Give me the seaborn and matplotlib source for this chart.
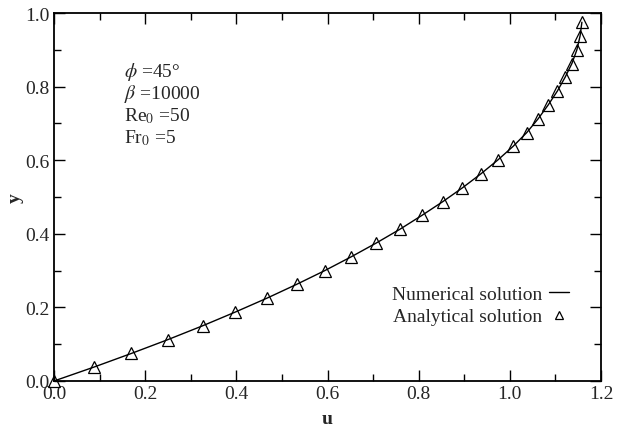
import matplotlib
matplotlib.use("Agg")
import matplotlib.pyplot as plt
import seaborn as sns
import numpy as np
from matplotlib.ticker import MultipleLocator

y_vals = [0.0, 0.0375, 0.075, 0.1125, 0.15, 0.1875, 0.225, 0.2625, 0.3, 0.3375,
          0.375, 0.4125, 0.45, 0.4875, 0.525, 0.5625, 0.6, 0.6375, 0.675, 0.7125,
          0.75, 0.7875, 0.825, 0.8625, 0.9, 0.9375, 0.975]
u_vals = [0.0, 0.087, 0.170, 0.250, 0.326, 0.398, 0.467, 0.532, 0.594, 0.652,
          0.707, 0.759, 0.807, 0.853, 0.896, 0.936, 0.973, 1.007, 1.037, 1.062,
          1.084, 1.104, 1.121, 1.136, 1.147, 1.154, 1.158]
x_ticks = [0.0, 0.2, 0.4, 0.6, 0.8, 1.0, 1.2]
y_ticks = [0.0, 0.2, 0.4, 0.6, 0.8, 1.0]
params = [r"$\phi$ =45°", r"$\beta$ =10000", r"Re$_0$ =50", r"Fr$_0$ =5"]

sns.set_style("ticks")
plt.rcParams['font.family'] = ['Liberation Serif', 'DejaVu Serif']
plt.rcParams['mathtext.fontset'] = 'stix'

fig = plt.figure(figsize=(6.22, 4.31), dpi=100)
ax = fig.add_axes([0.0868, 0.1137, 0.8795, 0.8538])

sns.lineplot(x=u_vals, y=y_vals, ax=ax, color='black', linewidth=1.0,
             sort=False, estimator=None, label='Numerical solution')
ax.plot(u_vals, y_vals, linestyle='none', marker='^', markersize=8,
        markerfacecolor='none', markeredgecolor='black', markeredgewidth=0.9,
        label='Analytical solution', clip_on=False, zorder=5)

ax.set_xlim(0, 1.2)
ax.set_ylim(0, 1.0)
ax.set_xticks(x_ticks)
ax.set_yticks(y_ticks)
ax.set_xticklabels([f"{t:.1f}" for t in x_ticks])
ax.set_yticklabels([f"{t:.1f}" for t in y_ticks])
ax.xaxis.set_minor_locator(MultipleLocator(0.1))
ax.yaxis.set_minor_locator(MultipleLocator(0.1))
ax.tick_params(which='both', direction='in', top=True, right=True,
               labelsize=14, width=1.0, color='black', pad=3)
ax.tick_params(which='major', length=8)
ax.tick_params(which='minor', length=5)
for s in ax.spines.values():
    s.set_linewidth(1.3)
    s.set_color('black')

ax.set_xlabel('u', fontsize=14, fontweight='bold', labelpad=6)
ax.set_ylabel('y', fontsize=14, fontweight='bold', labelpad=1)

for i, t in enumerate(params):
    ax.text(0.128, 0.842 - i * 0.06, t, transform=ax.transAxes, fontsize=14,
            va='center', ha='left')

ax.legend(loc='lower right', bbox_to_anchor=(0.955, 0.13), frameon=False,
          markerfirst=False, fontsize=14, handlelength=1.0, handletextpad=0.35,
          labelspacing=0.25, borderaxespad=0, markerscale=0.65)

fig.savefig('out.png', dpi=100)
